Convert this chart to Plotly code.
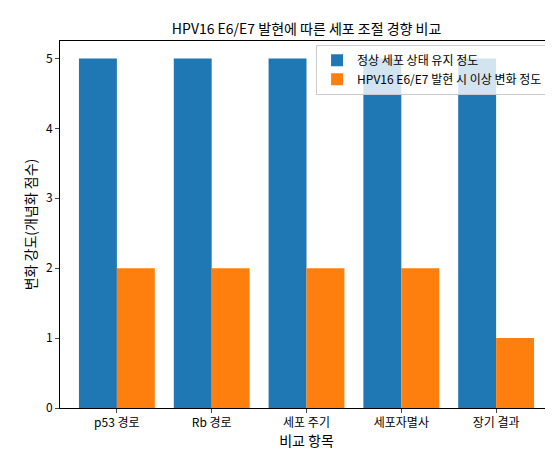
import plotly.graph_objects as go

categories = ["p53 경로", "Rb 경로", "세포 주기", "세포자멸사", "장기 결과"]
normal = [5, 5, 5, 5, 5]
hpv = [2, 2, 2, 2, 1]

F = "Noto Sans CJK KR"
fig = go.Figure()
fig.add_bar(x=categories, y=normal, name="정상 세포 상태 유지 정도", marker_color="#1f77b4", marker_line_width=0)
fig.add_bar(x=categories, y=hpv, name="HPV16 E6/E7 발현 시 이상 변화 정도", marker_color="#ff7f0e", marker_line_width=0)
fig.update_layout(
    width=553, height=455, barmode="group", bargap=0.2, bargroupgap=0,
    paper_bgcolor="white", plot_bgcolor="white",
    margin=dict(l=52, r=8, t=33, b=55, autoexpand=False),
    font=dict(family=F, size=12, color="black"),
    title=dict(text="HPV16 E6/E7 발현에 따른 세포 조절 경향 비교", x=0.54, xanchor="center", y=0.965, font=dict(size=14)),
    legend=dict(x=0.99, y=0.99, xanchor="right", yanchor="top", bgcolor="rgba(255,255,255,0.8)",
                bordercolor="#cccccc", borderwidth=1, font=dict(size=12), itemwidth=30),
    xaxis=dict(title=dict(text="비교 항목", standoff=4), showline=True, linecolor="black", mirror=True,
               ticks="outside", ticklen=4, range=[-0.6, 4.6], automargin=False),
    yaxis=dict(title=dict(text="변화 강도(개념화 점수)", standoff=6), showline=True, linecolor="black", mirror=True,
               ticks="outside", ticklen=4, range=[0, 5.25], dtick=1, showgrid=False, zeroline=False, automargin=False),
)
fig.write_html("out.html")
